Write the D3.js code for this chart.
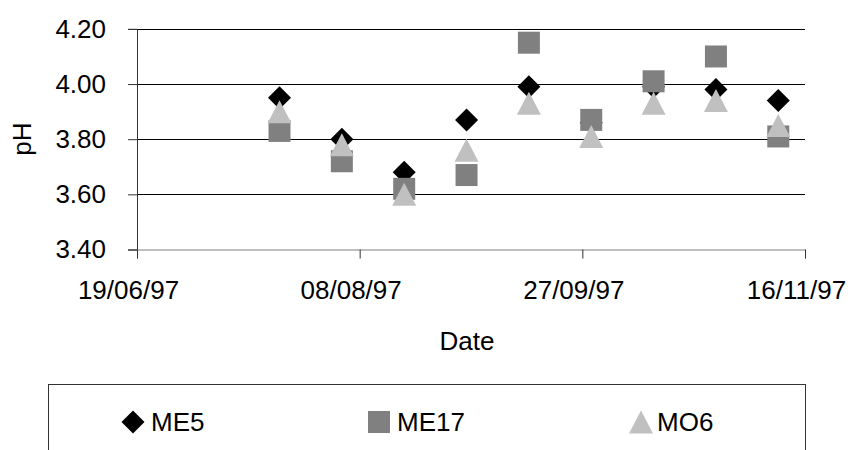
<!DOCTYPE html>
<html>
<head>
<meta charset="utf-8">
<script src="https://cdn.jsdelivr.net/npm/d3@7"></script>
<style>
  body { margin: 0; background: #fff; }
  svg { display: block; font-family: "Liberation Sans", Arial, sans-serif; }
</style>
</head>
<body>
<div id="chart"></div>
<script>
const sampleDates = ['21/07/97', '04/08/97', '18/08/97', '01/09/97', '15/09/97', '29/09/97', '13/10/97', '27/10/97', '10/11/97'];
const me5 = [3.95, 3.80, 3.68, 3.87, 3.99, 3.86, 3.99, 3.98, 3.94];
const me17 = [3.83, 3.72, 3.62, 3.67, 4.15, 3.87, 4.01, 4.10, 3.81];
const mo6 = [3.90, 3.78, 3.60, 3.76, 3.93, 3.81, 3.93, 3.94, 3.85];
const xTickLabels = ['19/06/97', '08/08/97', '27/09/97', '16/11/97'];
const yTicks = [3.40, 3.60, 3.80, 4.00, 4.20];

const parse = d3.timeParse('%d/%m/%y');
const fmt = d3.timeFormat('%d/%m/%y');

const width = 851, height = 450;
const plot = {left: 137, right: 805, top: 28.9, bottom: 249.5};

const svg = d3.select('#chart').append('svg')
  .attr('width', width)
  .attr('height', height);

const x = d3.scaleTime()
  .domain([parse(xTickLabels[0]), parse(xTickLabels[xTickLabels.length - 1])])
  .range([plot.left, plot.right]);

const y = d3.scaleLinear()
  .domain([3.4, 4.2])
  .range([plot.bottom, plot.top]);

// gridlines
svg.append('g')
  .selectAll('line')
  .data(yTicks.slice(1))
  .enter().append('line')
  .attr('x1', plot.left)
  .attr('x2', plot.right)
  .attr('y1', d => Math.round(y(d)) + 0.5)
  .attr('y2', d => Math.round(y(d)) + 0.5)
  .attr('stroke', '#000')
  .attr('stroke-width', 1);

// y axis
const yAxis = svg.append('g')
  .attr('transform', `translate(${plot.left},0)`)
  .call(d3.axisLeft(y).tickValues(yTicks).tickFormat(d3.format('.2f')).tickSize(9).tickPadding(22));
yAxis.select('.domain').attr('stroke', '#333');
yAxis.selectAll('line').attr('stroke', '#333');
yAxis.selectAll('text').attr('font-size', 26).attr('fill', '#000').attr('font-family', null);

// x axis
const xAxis = svg.append('g')
  .attr('transform', `translate(0,${plot.bottom})`)
  .call(d3.axisBottom(x).tickValues(xTickLabels.map(parse)).tickFormat(fmt).tickSize(9).tickPadding(22));
xAxis.select('.domain').attr('stroke', '#808080');
xAxis.selectAll('line').attr('stroke', '#333');
xAxis.selectAll('text').attr('font-size', 26).attr('fill', '#000').attr('font-family', null).attr('dx', -9);

// axis titles
svg.append('text')
  .attr('transform', 'translate(21.5,139) rotate(-90)')
  .attr('text-anchor', 'middle')
  .attr('dy', '0.35em')
  .attr('font-size', 26)
  .text('pH');

svg.append('text')
  .attr('x', 467)
  .attr('y', 350)
  .attr('text-anchor', 'middle')
  .attr('font-size', 26)
  .text('Date');

// markers
const diamond = 'M0,-11.5L11.5,0L0,11.5L-11.5,0Z';
const square = 'M-11,-11H11V11H-11Z';
const triangle = 'M0,-11.5L12,11.5L-12,11.5Z';

const series = [
  {name: 'ME5', values: me5, path: diamond, color: '#000000'},
  {name: 'ME17', values: me17, path: square, color: '#808080'},
  {name: 'MO6', values: mo6, path: triangle, color: '#C0C0C0'}
];

series.forEach(s => {
  svg.append('g')
    .selectAll('path')
    .data(s.values)
    .enter().append('path')
    .attr('d', s.path)
    .attr('fill', s.color)
    .attr('transform', (d, i) => `translate(${x(parse(sampleDates[i]))},${y(d)})`);
});

// legend
svg.append('rect')
  .attr('x', 48.5)
  .attr('y', 384.5)
  .attr('width', 757)
  .attr('height', 90)
  .attr('fill', 'none')
  .attr('stroke', '#333');

const legendPos = [{mx: 133, tx: 151}, {mx: 379, tx: 397}, {mx: 641, tx: 657}];
series.forEach((s, i) => {
  svg.append('path')
    .attr('d', s.path)
    .attr('fill', s.color)
    .attr('transform', `translate(${legendPos[i].mx},422)`);
  svg.append('text')
    .attr('x', legendPos[i].tx)
    .attr('y', 431)
    .attr('font-size', 26)
    .text(s.name);
});
</script>
</body>
</html>
